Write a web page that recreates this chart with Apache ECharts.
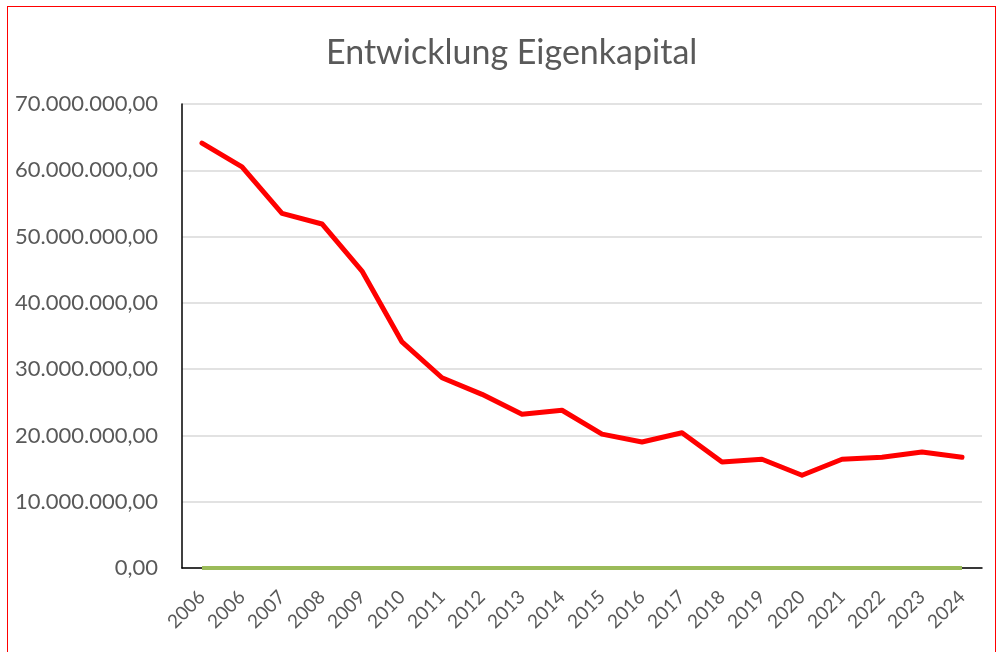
<!DOCTYPE html>
<html><head><meta charset="utf-8">
<script src="https://cdn.jsdelivr.net/npm/echarts@6/dist/echarts.min.js"></script>
<style>
html,body{margin:0;padding:0;background:#fff;overflow:hidden}
#frame{position:absolute;left:7px;top:6px;width:989px;height:700px;border:1.5px solid #ff0000;box-sizing:border-box}
#c{position:absolute;left:0;top:0;width:997px;height:652px}
</style></head>
<body>
<div id="frame"></div>
<div id="c"></div>
<script>
const categories = ["2006","2006","2007","2008","2009","2010","2011","2012","2013","2014","2015","2016","2017","2018","2019","2020","2021","2022","2023","2024"];
const eigenkapital = [64100000,60500000,53500000,51900000,44800000,34100000,28700000,26200000,23200000,23800000,20200000,19000000,20400000,16000000,16400000,14000000,16400000,16700000,17500000,16700000];
const nullLinie = [0,0,0,0,0,0,0,0,0,0,0,0,0,0,0,0,0,0,0,0];
const yTicks = {min:0, max:70000000, interval:10000000};

function fmt(v){
  const parts = Math.round(v).toString().replace(/\B(?=(\d{3})+(?!\d))/g,'.');
  return parts + ',00';
}
const chart = echarts.init(document.getElementById('c'));
chart.setOption({
  animation:false,
  backgroundColor:'transparent',
  title:{text:'Entwicklung Eigenkapital',left:321,top:31,
    textStyle:{fontFamily:'Lato',fontSize:34,fontWeight:'normal',color:'#595959'}},
  grid:{left:182,right:15,top:104,bottom:84},
  xAxis:{type:'category',data:categories,boundaryGap:true,
    axisLine:{lineStyle:{color:'#000',width:1.5}},
    axisTick:{show:false},
    axisLabel:{rotate:45,fontFamily:'Lato',fontSize:19,color:'#595959',margin:26,interval:0}},
  yAxis:{type:'value',min:yTicks.min,max:yTicks.max,interval:yTicks.interval,
    axisLine:{show:true,lineStyle:{color:'#000',width:1.5}},
    axisTick:{show:false},
    splitLine:{lineStyle:{color:'#d9d9d9',width:1.5}},
    axisLabel:{formatter:fmt,fontFamily:'Lato',fontSize:22,color:'#595959',margin:24}},
  series:[
    {type:'line',data:nullLinie,symbol:'none',lineStyle:{color:'#9bbb59',width:4},z:3},
    {type:'line',data:eigenkapital,symbol:'none',lineStyle:{color:'#ff0000',width:5,join:'round',cap:'round'},z:4}
  ]
});
</script>
</body></html>
